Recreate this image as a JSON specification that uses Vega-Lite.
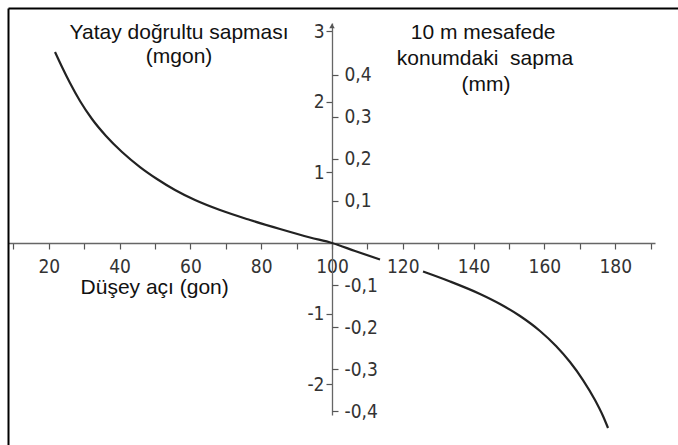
{
  "$schema": "https://vega.github.io/schema/vega-lite/v6.json",
  "width": 670,
  "height": 437,
  "autosize": {"type": "none"},
  "padding": {"left": 8, "top": 8, "right": 0, "bottom": 0},
  "background": "white",
  "config": {"view": {"stroke": null}, "axis": {"grid": false}},
  "datasets": {
    "curve": [
      {"x": 21.75, "y": 2.705, "seg": "a"},
      {"x": 23.73, "y": 2.493, "seg": "a"},
      {"x": 25.99, "y": 2.266, "seg": "a"},
      {"x": 28.81, "y": 2.011, "seg": "a"},
      {"x": 32.2, "y": 1.756, "seg": "a"},
      {"x": 36.16, "y": 1.516, "seg": "a"},
      {"x": 40.68, "y": 1.289, "seg": "a"},
      {"x": 45.76, "y": 1.076, "seg": "a"},
      {"x": 50.56, "y": 0.907, "seg": "a"},
      {"x": 55.65, "y": 0.751, "seg": "a"},
      {"x": 61.3, "y": 0.609, "seg": "a"},
      {"x": 68.36, "y": 0.467, "seg": "a"},
      {"x": 76.84, "y": 0.326, "seg": "a"},
      {"x": 85.31, "y": 0.198, "seg": "a"},
      {"x": 93.79, "y": 0.078, "seg": "a"},
      {"x": 100, "y": 0, "seg": "a"},
      {"x": 106.5, "y": -0.113, "seg": "a"},
      {"x": 113.56, "y": -0.234, "seg": "a"},
      {"x": 125.71, "y": -0.404, "seg": "b"},
      {"x": 133.33, "y": -0.545, "seg": "b"},
      {"x": 141.81, "y": -0.722, "seg": "b"},
      {"x": 147.46, "y": -0.864, "seg": "b"},
      {"x": 153.11, "y": -1.034, "seg": "b"},
      {"x": 158.76, "y": -1.246, "seg": "b"},
      {"x": 163.28, "y": -1.459, "seg": "b"},
      {"x": 167.23, "y": -1.686, "seg": "b"},
      {"x": 170.9, "y": -1.941, "seg": "b"},
      {"x": 174.29, "y": -2.224, "seg": "b"},
      {"x": 176.55, "y": -2.45, "seg": "b"},
      {"x": 177.97, "y": -2.62, "seg": "b"}
    ],
    "notes": [
      {"x": 56.8, "y": 2.975, "text": "Yatay doğrultu sapması"},
      {"x": 56.8, "y": 2.635, "text": "(mgon)"},
      {"x": 142.7, "y": 2.975, "text": "10 m mesafede"},
      {"x": 143.2, "y": 2.606, "text": "konumdaki\u00a0 sapma"},
      {"x": 143.5, "y": 2.238, "text": "(mm)"},
      {"x": 49.9, "y": -0.637, "text": "Düşey açı (gon)"}
    ],
    "arrow": [{"x": 100, "y": 3.074}],
    "frame": [{"a": 0, "b": 0}, {"a": 1, "b": 1}],
    "mm": [{"mm": -0.4}, {"mm": 0.4}]
  },
  "layer": [
    {
      "data": {"name": "frame"},
      "mark": {"type": "point", "opacity": 0},
      "encoding": {
        "x": {"field": "a", "type": "quantitative", "scale": {"domain": [0, 1], "nice": false},
          "axis": {"orient": "top", "domainColor": "#000", "domainWidth": 2, "ticks": false, "labels": false, "title": null}},
        "y": {"field": "b", "type": "quantitative", "scale": {"domain": [0, 1], "nice": false},
          "axis": {"orient": "left", "domainColor": "#000", "domainWidth": 2, "ticks": false, "labels": false, "title": null}}
      }
    },
    {
      "encoding": {
        "x": {"field": "x", "type": "quantitative",
          "scale": {"domain": [8.47, 191.24], "range": [0, 647], "nice": false, "zero": false},
          "axis": {"orient": "bottom", "offset": -202, "values": [10, 20, 30, 40, 50, 60, 70, 80, 90, 100, 110, 120, 130, 140, 150, 160, 170, 180, 190],
            "labelExpr": "datum.value % 20 == 0 && datum.value <= 180 ? datum.label : ''",
            "tickSize": 6, "tickColor": "#555", "tickWidth": 1.2, "domainColor": "#666", "domainWidth": 1.3,
            "labelFont": "Liberation Sans Narrow, DejaVu Sans Condensed, sans-serif", "labelFontSize": 19, "labelColor": "#333",
            "labelPadding": 8, "labelFlush": false, "labelOverlap": false, "labelBound": false, "title": null}},
        "y": {"field": "y", "type": "quantitative",
          "scale": {"domain": [-2.436, 3.116], "range": [407, 15], "nice": false, "zero": false},
          "axis": {"orient": "left", "offset": -324, "values": [-2, -1, 1, 2, 3],
            "labelExpr": "'' + datum.value",
            "tickSize": 6, "tickColor": "#555", "tickWidth": 1.2, "domainColor": "#666", "domainWidth": 1.3,
            "labelFont": "Liberation Sans Narrow, DejaVu Sans Condensed, sans-serif", "labelFontSize": 19, "labelColor": "#333",
            "labelPadding": 2, "labelOverlap": false, "labelBound": false, "title": null}}
      },
      "layer": [
        {
          "data": {"name": "curve"},
          "mark": {"type": "line", "interpolate": "monotone", "color": "#222", "strokeWidth": 2.2, "clip": false},
          "encoding": {"detail": {"field": "seg", "type": "nominal"}}
        },
        {
          "data": {"name": "arrow"},
          "mark": {"type": "point", "shape": "triangle-up", "size": 30, "filled": true, "color": "#555", "opacity": 1}
        },
        {
          "data": {"name": "notes"},
          "mark": {"type": "text", "font": "Liberation Sans, Arial, sans-serif", "fontSize": 21, "color": "#111", "align": "center", "baseline": "middle"},
          "encoding": {"text": {"field": "text", "type": "nominal"}}
        }
      ]
    },
    {
      "data": {"name": "mm"},
      "mark": {"type": "point", "opacity": 0},
      "encoding": {
        "y": {"field": "mm", "type": "quantitative",
          "scale": {"domain": [-0.4094, 0.5237], "range": [407, 15], "nice": false, "zero": false},
          "axis": {"orient": "right", "offset": -346, "domain": false,
            "values": [-0.4, -0.3, -0.2, -0.1, 0.1, 0.2, 0.3, 0.4],
            "labelExpr": "(datum.value < 0 ? '-' : '') + replace(format(abs(datum.value), '.1f'), '.', ',')",
            "tickSize": 6, "tickColor": "#555", "tickWidth": 1.2,
            "labelFont": "Liberation Sans Narrow, DejaVu Sans Condensed, sans-serif", "labelFontSize": 19, "labelColor": "#333",
            "labelPadding": 6, "labelOverlap": false, "labelBound": false, "title": null}}
      }
    }
  ],
  "resolve": {"scale": {"x": "independent", "y": "independent"}}
}
